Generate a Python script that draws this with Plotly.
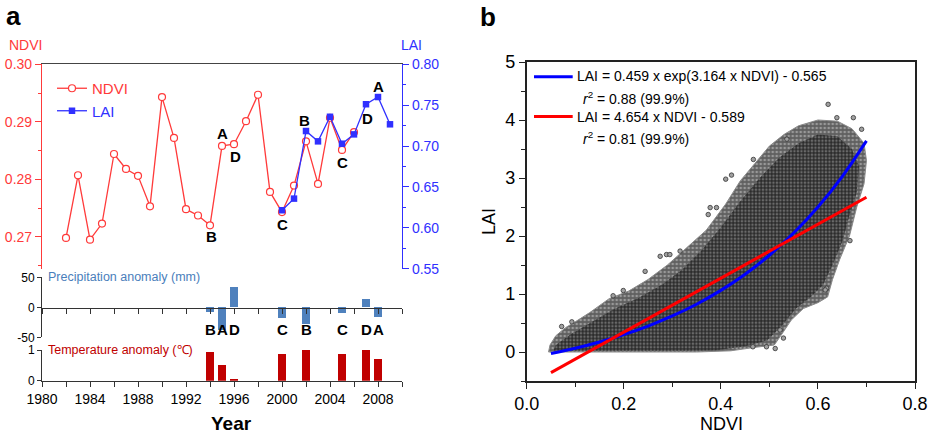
import plotly.graph_objects as go

W, H = 934, 434
def px(x): return x / W
def py(y): return 1 - y / H

# ---------------- data: panel a ----------------
ndvi_years = list(range(1982, 2007))
ndvi_values = [0.2698, 0.2807, 0.2695, 0.2723, 0.2844, 0.2818, 0.2806, 0.2753, 0.2943, 0.2872,
               0.2748, 0.2737, 0.2720, 0.2858, 0.2861, 0.2901, 0.2947, 0.2778, 0.2743, 0.2789,
               0.2866, 0.2792, 0.2907, 0.2851, 0.2882]
lai_years = list(range(2000, 2010))
lai_values = [0.6216, 0.6358, 0.7183, 0.7057, 0.7357, 0.7028, 0.7142, 0.7510, 0.7598, 0.7265]

event_years = [1994, 1995, 1996, 2000, 2002, 2005, 2007, 2008]
event_letters = ["B", "A", "D", "C", "B", "C", "D", "A"]
precip_anomaly = [-9, -38, 33, -18, -28, -10.5, 14, -16]
temp_anomaly = [0.93, 0.51, 0.07, 0.88, 1.0, 0.86, 1.0, 0.71]

# letter labels on the NDVI/LAI line chart (year, NDVI-axis value)
line_label_years = [1995, 1996.1, 1994.1, 2000.05, 2001.9, 2005, 2007.1, 2008]
line_label_ndvi = [0.2880, 0.2840, 0.2700, 0.2722, 0.2902, 0.2829, 0.2906, 0.2961]
line_label_text = ["A", "D", "B", "C", "B", "C", "D", "A"]

year_ticks = [1980, 1984, 1988, 1992, 1996, 2000, 2004, 2008]

# ---------------- data: panel b ----------------
cloud_outer_ndvi = [0.045, 0.048, 0.06, 0.08, 0.10, 0.13, 0.17, 0.21, 0.25, 0.29, 0.33, 0.37, 0.41,
                    0.44, 0.47, 0.50, 0.53, 0.56, 0.60, 0.64, 0.67, 0.695, 0.70,
                    0.695, 0.68, 0.665, 0.645, 0.63, 0.62, 0.60, 0.57, 0.545, 0.525, 0.51, 0.47,
                    0.42, 0.35, 0.045]
cloud_outer_lai = [0.0, 0.12, 0.28, 0.42, 0.52, 0.68, 0.92, 1.05, 1.25, 1.5, 1.8, 2.1, 2.55,
                   2.95, 3.25, 3.55, 3.75, 3.9, 4.0, 3.98, 3.85, 3.6, 3.3,
                   2.9, 2.5, 2.0, 1.6, 1.25, 0.95, 0.85, 0.75, 0.55, 0.3, 0.12, 0.08,
                   0.02, 0.0, 0.0]
cloud_core_ndvi = [0.055, 0.06, 0.09, 0.13, 0.18, 0.23, 0.28, 0.32, 0.36, 0.40, 0.44, 0.48, 0.52,
                   0.56, 0.60, 0.64, 0.67, 0.685,
                   0.68, 0.665, 0.65, 0.63, 0.61, 0.585, 0.555, 0.525, 0.495, 0.45, 0.39, 0.32, 0.055]
cloud_core_lai = [0.02, 0.12, 0.3, 0.5, 0.74, 0.93, 1.17, 1.42, 1.75, 2.15, 2.6, 3.0, 3.35,
                  3.6, 3.75, 3.72, 3.5, 3.2,
                  2.75, 2.35, 1.9, 1.5, 1.15, 0.95, 0.75, 0.45, 0.2, 0.1, 0.03, 0.02, 0.02]
outlier_ndvi = [0.072, 0.093, 0.178, 0.199, 0.244, 0.275, 0.288, 0.316, 0.374, 0.378, 0.391, 0.41,
                0.422, 0.467, 0.536, 0.621, 0.639, 0.673, 0.69, 0.666, 0.618, 0.615, 0.522,
                0.529, 0.512, 0.494, 0.466, 0.295]
outlier_lai = [0.44, 0.52, 0.97, 1.06, 1.39, 1.65, 1.68, 1.74, 2.37, 2.49, 2.49, 2.98,
               3.05, 3.32, 3.67, 4.27, 4.04, 4.04, 3.84, 1.92, 1.1, 1.07, 0.38,
               0.24, 0.06, 0.09, 0.09, 1.68]

fit_ndvi = [0.05, 0.10, 0.15, 0.20, 0.25, 0.30, 0.35, 0.40, 0.45, 0.50, 0.55, 0.60, 0.65, 0.70]
fit_exp_lai = [-0.027, 0.065, 0.173, 0.299, 0.447, 0.621, 0.824, 1.062, 1.341, 1.668, 2.051,
               2.499, 3.024, 3.639]
fit_lin_ndvi = [0.05, 0.70]
fit_lin_lai = [-0.356, 2.669]

RED = "#ff3a3a"
BLUE = "#3030ff"
PBLUE = "#4f81bd"
TRED = "#c00000"
FONT = "Liberation Sans, Arial, sans-serif"

fig = go.Figure()

fig.add_trace(go.Scatter(
    x=ndvi_years, y=ndvi_values, mode="lines+markers", xaxis="x", yaxis="y",
    name='<span style="color:#ff3a3a">NDVI</span>',
    line=dict(color=RED, width=1.3),
    marker=dict(symbol="circle", size=7, color="white", line=dict(color=RED, width=1.2))))
fig.add_trace(go.Scatter(
    x=lai_years, y=lai_values, mode="lines+markers", xaxis="x", yaxis="y2",
    name='<span style="color:#3030ff">LAI</span>',
    line=dict(color=BLUE, width=1.3),
    marker=dict(symbol="square", size=6.5, color=BLUE)))

fig.add_trace(go.Bar(x=event_years, y=precip_anomaly, xaxis="x2", yaxis="y3",
                     marker=dict(color=PBLUE, line=dict(width=0)), width=0.66, showlegend=False))
fig.add_trace(go.Bar(x=event_years, y=temp_anomaly, xaxis="x3", yaxis="y4",
                     marker=dict(color=TRED, line=dict(width=0)), width=0.66, showlegend=False))

# panel b cloud
fig.add_trace(go.Scatter(
    x=cloud_outer_ndvi, y=cloud_outer_lai, mode="lines", fill="toself", xaxis="x4", yaxis="y5",
    line=dict(color="#8a8a8a", width=1), fillcolor="#606060",
    fillpattern=dict(shape=".", bgcolor="#606060", fgcolor="#d0d0d0", size=4, solidity=0.35),
    showlegend=False, hoverinfo="skip"))
fig.add_trace(go.Scatter(
    x=cloud_core_ndvi, y=cloud_core_lai, mode="lines", fill="toself", xaxis="x4", yaxis="y5",
    line=dict(color="#555555", width=0), fillcolor="#303030",
    fillpattern=dict(shape=".", bgcolor="#2c2c2c", fgcolor="#a8a8a8", size=3.5, solidity=0.4),
    showlegend=False, hoverinfo="skip"))
fig.add_trace(go.Scatter(
    x=outlier_ndvi, y=outlier_lai, mode="markers", xaxis="x4", yaxis="y5",
    marker=dict(size=4.5, color="#a0a0a0", line=dict(color="#333333", width=0.8)),
    showlegend=False, hoverinfo="skip"))
fig.add_trace(go.Scatter(
    x=fit_ndvi, y=fit_exp_lai, mode="lines", xaxis="x4", yaxis="y5",
    line=dict(color="#0000ff", width=3, shape="spline"), showlegend=False))
fig.add_trace(go.Scatter(
    x=fit_lin_ndvi, y=fit_lin_lai, mode="lines", xaxis="x4", yaxis="y5",
    line=dict(color="#ff0000", width=3), showlegend=False))

xa_dom = [px(42), px(402)]
common_y = dict(showgrid=False, zeroline=False, ticks="outside", showline=True, automargin=False)

fig.update_layout(
    width=W, height=H, margin=dict(l=0, r=0, t=0, b=0, autoexpand=False),
    paper_bgcolor="white", plot_bgcolor="rgba(0,0,0,0)",
    font=dict(family=FONT, size=14, color="black"),
    bargap=0,
    showlegend=True,
    legend=dict(x=px(52), y=py(72), xanchor="left", yanchor="top", bgcolor="rgba(0,0,0,0)",
                font=dict(size=15, family=FONT), itemwidth=30, tracegroupgap=0),
    xaxis=dict(domain=xa_dom, range=[1980, 2010], anchor="y", side="top", showline=True,
               linecolor="#444444", linewidth=1.2, ticks="", showticklabels=False,
               showgrid=False, zeroline=False, automargin=False),
    yaxis=dict(domain=[py(269), py(64)], range=[0.2644, 0.30005], anchor="x",
               tickvals=[0.27, 0.28, 0.29, 0.30], tickformat=".2f",
               color=RED, linecolor=RED, linewidth=1.2, ticklen=6, tickcolor=RED,
               minor=dict(dtick=0.005, tick0=0.265, ticklen=3, tickcolor=RED, ticks="outside"),
               tickfont=dict(size=14, color=RED), **common_y),
    yaxis2=dict(overlaying="y", side="right", anchor="x", range=[0.5499, 0.8001],
                tickvals=[0.55, 0.60, 0.65, 0.70, 0.75, 0.80], tickformat=".2f",
                color=BLUE, linecolor=BLUE, linewidth=1.2, ticklen=6, tickcolor=BLUE,
                minor=dict(dtick=0.025, tick0=0.55, ticklen=3, tickcolor=BLUE, ticks="outside"),
                tickfont=dict(size=14, color=BLUE), **common_y),
    xaxis2=dict(domain=xa_dom, range=[1980, 2010], anchor="free", position=py(307.7),
                showline=True, linecolor="#333333", linewidth=1.2, ticks="outside",
                dtick=2, tick0=1980, ticklen=5, tickcolor="#333333",
                showticklabels=False, showgrid=False, zeroline=False, automargin=False),
    yaxis3=dict(domain=[py(337.3), py(277.3)], range=[-50, 50], anchor="x2",
                tickvals=[-50, 0, 50], ticktext=["-50", "0", "50"], linecolor="#333333",
                ticklen=4, tickcolor="#333333", tickfont=dict(size=12), **common_y),
    xaxis3=dict(domain=xa_dom, range=[1980, 2010], anchor="y4", showline=True,
                linecolor="#333333", linewidth=1.2, ticks="outside", tickvals=year_ticks,
                ticklen=5, tickcolor="#333333",
                minor=dict(dtick=2, tick0=1980, ticklen=5, tickcolor="#333333", ticks="outside"),
                tickfont=dict(size=14), showgrid=False, zeroline=False, automargin=False),
    yaxis4=dict(domain=[py(380.7), py(350)], range=[0, 1.001], anchor="x3",
                tickvals=[0, 1], linecolor="#333333", ticklen=4, tickcolor="#333333",
                tickfont=dict(size=12), **common_y),
    xaxis4=dict(domain=[px(526.7), px(915)], range=[0, 0.8], anchor="y5",
                tickvals=[0, 0.2, 0.4, 0.6, 0.8], tickformat=".1f", mirror=True,
                showline=True, linecolor="#222222", linewidth=1.5, ticks="outside",
                ticklen=6, tickcolor="#222222",
                minor=dict(dtick=0.1, tick0=0, ticklen=4, tickcolor="#222222", ticks="outside"),
                tickfont=dict(size=18), showgrid=False, zeroline=False, automargin=False),
    yaxis5=dict(domain=[py(381), py(62)], range=[-0.5, 5], anchor="x4",
                tickvals=[0, 1, 2, 3, 4, 5], mirror=True,
                showline=True, linecolor="#222222", linewidth=1.5, ticks="outside",
                ticklen=6, tickcolor="#222222",
                minor=dict(dtick=0.5, tick0=0, ticklen=4, tickcolor="#222222", ticks="outside"),
                tickfont=dict(size=18), showgrid=False, zeroline=False, automargin=False),
)

ann = []
def pa(text, x, y, size=14, color="black", bold=False, xanchor="center", yanchor="middle",
       textangle=0):
    if bold:
        text = "<b>" + text + "</b>"
    ann.append(dict(text=text, x=px(x), y=py(y), xref="paper", yref="paper", showarrow=False,
                    xanchor=xanchor, yanchor=yanchor, textangle=textangle,
                    font=dict(size=size, color=color, family=FONT)))

pa("a", 13, 16, size=26, bold=True)
pa("b", 488, 17, size=26, bold=True)
pa("NDVI", 25, 45, size=14, color=RED)
pa("LAI", 411, 45, size=14, color=BLUE)
pa("Precipitation anomaly (mm)", 46, 277, size=12.5, color="#4a7ebb", xanchor="left")
pa("Temperature anomaly (℃)", 46, 350, size=12.5, color=TRED, xanchor="left")
pa("Year", 231, 423, size=19, bold=True)
pa("NDVI", 721, 424, size=18)
pa("LAI", 489, 221, size=18, textangle=-90)

# letters on the line chart
for yr, v, t in zip(line_label_years, line_label_ndvi, line_label_text):
    ann.append(dict(text="<b>" + t + "</b>", x=yr, y=v, xref="x", yref="y", showarrow=False,
                    font=dict(size=15, color="black", family=FONT)))
# letters between precipitation and temperature panels
for yr, t in zip(event_years, event_letters):
    ann.append(dict(text="<b>" + t + "</b>", x=yr, y=py(340), xref="x3", yref="paper",
                    showarrow=False, font=dict(size=15, color="black", family=FONT)))

# panel b legend
pa("LAI = 0.459 x exp(3.164 x NDVI) - 0.565", 575, 76, size=14, xanchor="left")
pa("<i>r</i><sup>2</sup> = 0.88 (99.9%)", 581, 98, size=14, xanchor="left")
pa("LAI = 4.654 x NDVI - 0.589", 575, 117, size=14, xanchor="left")
pa("<i>r</i><sup>2</sup> = 0.81 (99.9%)", 581, 138, size=14, xanchor="left")

fig.update_layout(annotations=ann, shapes=[
    dict(type="line", xref="paper", yref="paper", x0=px(534), x1=px(572.7), y0=py(76.7),
         y1=py(76.7), line=dict(color="#0000ff", width=3)),
    dict(type="line", xref="paper", yref="paper", x0=px(534), x1=px(572.7), y0=py(116.5),
         y1=py(116.5), line=dict(color="#ff0000", width=3)),
])

fig.write_html("out.html", config={"displayModeBar": False},
               post_script="document.body.style.margin='0';document.body.style.overflow='hidden';")
